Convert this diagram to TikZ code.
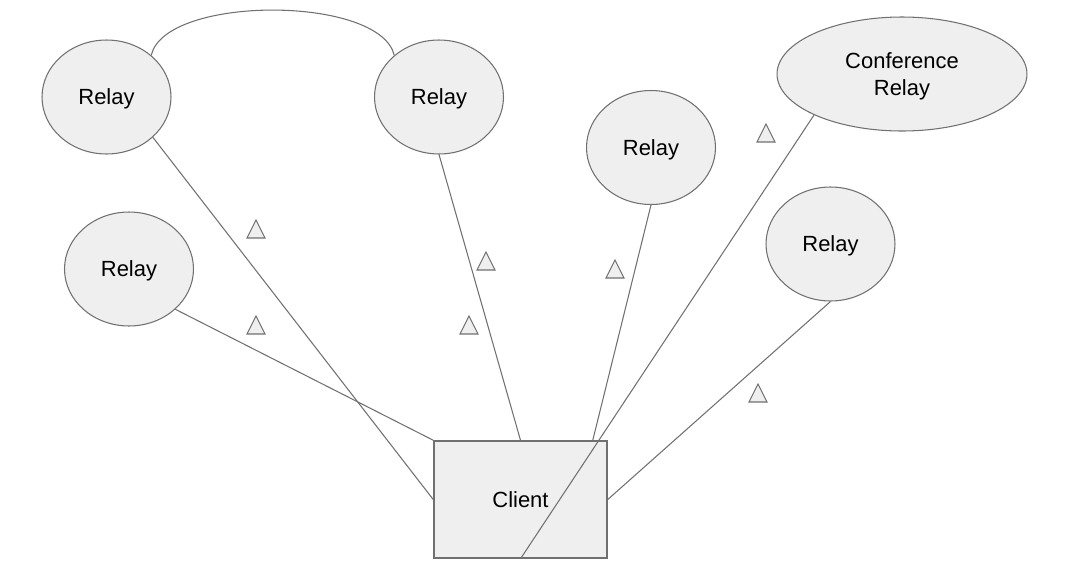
\documentclass[tikz,border=0pt]{standalone}
\usepackage{fontspec}
\setmainfont{Liberation Sans}
\usetikzlibrary{shapes.geometric}
\definecolor{shapefill}{HTML}{EFEFEF}
\definecolor{linegray}{HTML}{707070}
\begin{document}
\begin{tikzpicture}[x=0.02cm,y=-0.02cm,
	relay/.style={ellipse,draw=linegray,fill=shapefill,line width=0.6pt,inner sep=0pt,
		minimum width=2.58cm,minimum height=2.28cm,align=center,text depth=0pt,
		font=\fontsize{12.5}{15.4}\selectfont},
	confrelay/.style={relay,minimum width=5.0cm},
	clientbox/.style={rectangle,draw=linegray,fill=shapefill,line width=0.9pt,inner sep=0pt,
		minimum width=3.46cm,minimum height=2.34cm,font=\fontsize{12.5}{15.4}\selectfont},
	link/.style={draw=linegray,line width=0.6pt},
	tri/.style={draw=linegray,fill=shapefill,line width=0.6pt,line join=miter}]
	\useasboundingbox (0,0) rectangle (1080,582);
	%Client at the bottom
	\coordinate (clientPos) at (520.5,499.5);
	\node [clientbox] (client) at (clientPos) {Client};
	%Relays
	\coordinate (relayTLPos) at (106.5,97);
	\coordinate (relayTMPos) at (439,97);
	\coordinate (relayLPos) at (129,269);
	\coordinate (relayMPos) at (651,147.5);
	\coordinate (relayRPos) at (830.5,244);
	\coordinate (confPos) at (902,74);
	\node [relay] (relayTL) at (relayTLPos) {Relay};
	\node [relay] (relayTM) at (relayTMPos) {Relay};
	\node [relay] (relayL) at (relayLPos) {Relay};
	\node [relay] (relayM) at (relayMPos) {Relay};
	\node [relay] (relayR) at (relayRPos) {Relay};
	\node [confrelay] (conf) at (confPos) {Conference\\Relay};
	%Arc between the two top relays
	\draw [link] (relayTL.43) .. controls (165,-5) and (380,-5) .. (relayTM.137);
	%Lines from the relays to the client
	\coordinate (clientTopRight) at ([xshift=-0.3cm]client.north east);
	\draw [link] (relayTL.-41) -- (client.west);
	\draw [link] (relayL.-41) -- (client.north west);
	\draw [link] (relayTM.south) -- (client.north);
	\draw [link] (relayM.south) -- (clientTopRight);
	\draw [link] (conf.205) -- (client.south);
	\draw [link] (relayR.south) -- (client.east);
	%Small triangles
	\foreach \tx/\ty in {256/229,256/325,486/261,469/325,615/269,766/133,758/393} {
		\draw [tri] (\tx-9,\ty+9) -- (\tx,\ty-9) -- (\tx+9,\ty+9) -- cycle;
	}
\end{tikzpicture}
\end{document}
